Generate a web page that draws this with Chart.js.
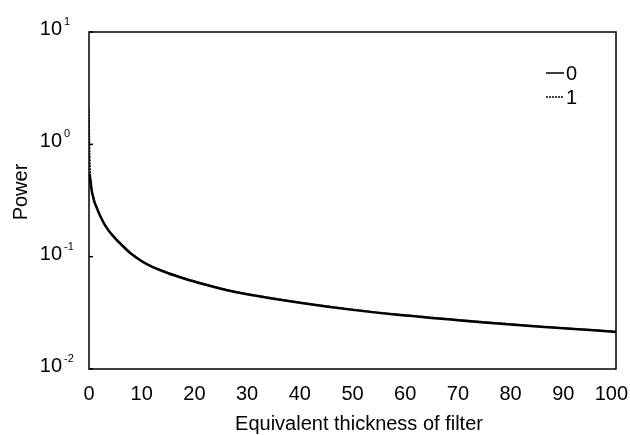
<!DOCTYPE html>
<html>
<head>
<meta charset="utf-8">
<script src="https://cdn.jsdelivr.net/npm/chart.js@4"></script>
<style>
  html, body { margin: 0; padding: 0; background: #fff; }
  #wrap { width: 630px; height: 435px; position: relative; }
</style>
</head>
<body>
<div id="wrap"><canvas id="myChart"></canvas></div>
<script>
// values
const thickness = [0, 0.1, 0.2, 0.3, 0.5, 0.75, 1, 1.5, 2, 2.5, 3, 4, 5, 6, 8, 10, 12, 15, 18, 22, 26, 30, 35, 40, 45, 50, 55, 60, 65, 70, 75, 80, 85, 90, 95, 100];
const power0 = [0.55, 0.52, 0.5, 0.47, 0.39, 0.345, 0.31, 0.27, 0.237, 0.212, 0.192, 0.164, 0.145, 0.13, 0.106, 0.091, 0.081, 0.0712, 0.064, 0.0565, 0.0505, 0.0462, 0.0422, 0.0388, 0.036, 0.0336, 0.0316, 0.03, 0.0285, 0.0272, 0.026, 0.0249, 0.0239, 0.023, 0.0222, 0.0214];
const power1 = [2.1, 1.0, 0.65, 0.48, 0.395, 0.35, 0.313, 0.273, 0.24, 0.214, 0.194, 0.166, 0.147, 0.132, 0.107, 0.092, 0.082, 0.072, 0.0647, 0.0571, 0.051, 0.0467, 0.0427, 0.0392, 0.0364, 0.034, 0.0319, 0.0303, 0.0288, 0.0275, 0.0263, 0.0252, 0.0241, 0.0232, 0.0224, 0.0216];
const seriesNames = ['0', '1'];
const xTickValues = [0, 10, 20, 30, 40, 50, 60, 70, 80, 90, 100];
const yTickExponents = [1, 0, -1, -2];
const xTitle = 'Equivalent thickness of filter';
const yTitle = 'Power';

const FONT = '"Liberation Sans", Arial, sans-serif';

function toPoints(xs, ys) {
  return xs.map((x, i) => ({ x: x, y: ys[i] }));
}

// draws frame, tick labels (y with superscripts), titles and legend
const extras = {
  id: 'extras',
  afterDraw(chart) {
    const ctx = chart.ctx;
    const a = chart.chartArea;
    const x = chart.scales.x;
    const y = chart.scales.y;
    const W = chart.width;
    ctx.save();
    ctx.strokeStyle = '#000';
    ctx.lineWidth = 1.5;
    ctx.strokeRect(a.left, a.top, a.right - a.left, a.bottom - a.top);

    ctx.fillStyle = '#000';
    ctx.textBaseline = 'alphabetic';
    yTickExponents.forEach(e => {
      const py = y.getPixelForValue(Math.pow(10, e));
      ctx.beginPath();
      ctx.moveTo(a.left, py);
      ctx.lineTo(a.left + 4, py);
      ctx.stroke();
      ctx.font = '20px ' + FONT;
      ctx.textAlign = 'right';
      ctx.fillText('10', 62, py + 3);
      ctx.font = '11px ' + FONT;
      ctx.textAlign = 'left';
      ctx.fillText(String(e), 64, py - 7);
    });

    ctx.font = '20px ' + FONT;
    ctx.textAlign = 'center';
    xTickValues.forEach(v => {
      const txt = String(v);
      const w = ctx.measureText(txt).width;
      let px = x.getPixelForValue(v);
      if (px + w / 2 > W - 2) px = W - 2 - w / 2; // keep last label inside
      ctx.fillText(txt, px, a.bottom + 31);
    });

    ctx.fillText(xTitle, 359, 430);

    ctx.save();
    ctx.translate(26.5, 192);
    ctx.rotate(-Math.PI / 2);
    ctx.fillText(yTitle, 0, 0);
    ctx.restore();

    // legend
    chart.data.datasets.forEach((ds, i) => {
      const ly = 73 + i * 24;
      ctx.save();
      ctx.lineWidth = 1.5;
      ctx.setLineDash(ds.borderDash || []);
      ctx.beginPath();
      ctx.moveTo(546, ly);
      ctx.lineTo(564, ly);
      ctx.stroke();
      ctx.restore();
      ctx.textAlign = 'left';
      ctx.font = '20px ' + FONT;
      ctx.fillText(ds.label, 566, ly + 7);
    });
    ctx.restore();
  }
};

const ctx = document.getElementById('myChart').getContext('2d');
const myChart = new Chart(ctx, {
  type: 'line',
  data: {
    datasets: [{
      label: seriesNames[0],
      data: toPoints(thickness, power0),
      borderColor: '#000',
      borderWidth: 2.5,
      pointRadius: 0,
      cubicInterpolationMode: 'monotone'
    }, {
      label: seriesNames[1],
      data: toPoints(thickness, power1),
      borderColor: '#000',
      borderWidth: 1.5,
      borderDash: [2, 1],
      pointRadius: 0,
      cubicInterpolationMode: 'monotone'
    }]
  },
  options: {
    responsive: true,
    maintainAspectRatio: false,
    animation: false,
    devicePixelRatio: 1,
    layout: { padding: { left: 0, top: 32, right: 14, bottom: 0 } },
    plugins: { legend: { display: false }, tooltip: { enabled: false } },
    scales: {
      x: {
        type: 'linear',
        min: 0,
        max: 100,
        grid: { display: false, drawTicks: false },
        border: { display: false },
        ticks: { display: false, stepSize: 10 },
        afterFit(scale) {
          scale.height = 66;
          scale.paddingLeft = 0;
          scale.paddingRight = 0;
        }
      },
      y: {
        type: 'logarithmic',
        min: 0.01,
        max: 10,
        grid: { display: false },
        border: { display: false },
        ticks: { display: false },
        afterFit(scale) { scale.width = 89; }
      }
    }
  },
  plugins: [extras]
});
</script>
</body>
</html>
